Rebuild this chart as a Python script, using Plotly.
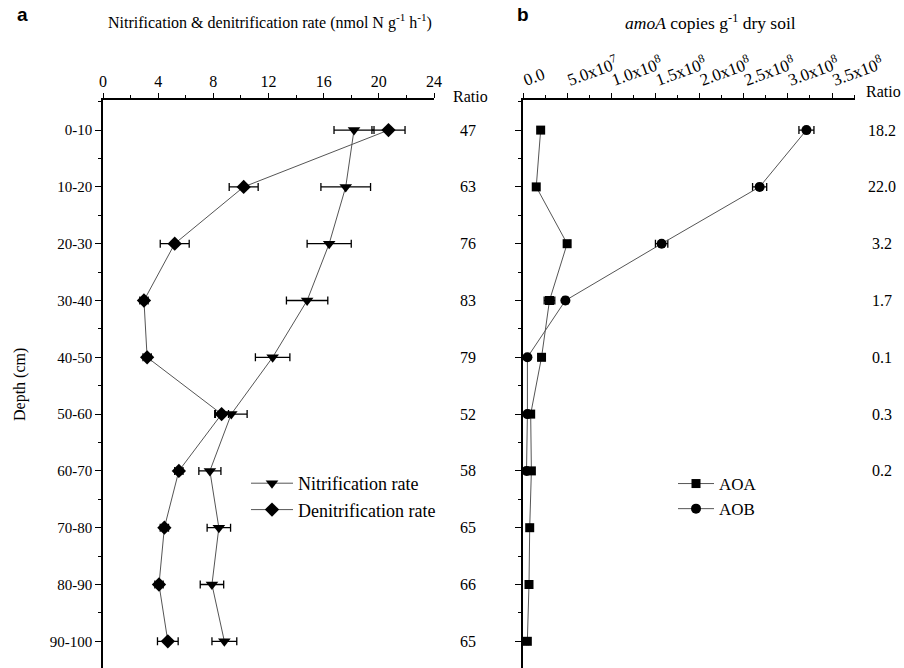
import plotly.graph_objects as go

depth = ["0-10", "10-20", "20-30", "30-40", "40-50", "50-60", "60-70", "70-80", "80-90", "90-100"]
nit = [18.2, 17.6, 16.4, 14.8, 12.3, 9.3, 7.75, 8.4, 7.9, 8.8]
nit_err = [1.45, 1.8, 1.6, 1.5, 1.25, 1.15, 0.8, 0.85, 0.85, 0.9]
den = [20.7, 10.2, 5.2, 2.97, 3.2, 8.6, 5.5, 4.45, 4.06, 4.7]
den_err = [1.2, 1.05, 1.05, 0.3, 0.3, 0.5, 0.3, 0.3, 0.3, 0.75]
ratio_a = ["47", "63", "76", "83", "79", "52", "58", "65", "66", "65"]

aoa = [2.0e7, 1.5e7, 5.0e7, 3.0e7, 2.1e7, 8.7e6, 9.5e6, 7.6e6, 6.8e6, 4.9e6]
aoa_err = [2e6, 2e6, 3e6, 6e6, 3e6, 2e6, 2e6, 1e6, 1e6, 1e6]
aob = [3.21e8, 2.68e8, 1.57e8, 4.8e7, 5e6, 5e6, 4e6]
aob_err = [8.5e6, 8e6, 7e6, 3e6, 2e6, 2e6, 2e6]
ratio_b = ["18.2", "22.0", "3.2", "1.7", "0.1", "0.3", "0.2"]

a_ticks = [0, 4, 8, 12, 16, 20, 24]
b_tickvals = [0, 5e7, 1e8, 1.5e8, 2e8, 2.5e8, 3e8, 3.5e8]
b_ticktext = ["0.0", "5.0x10<sup>7</sup>", "1.0x10<sup>8</sup>", "1.5x10<sup>8</sup>",
              "2.0x10<sup>8</sup>", "2.5x10<sup>8</sup>", "3.0x10<sup>8</sup>", "3.5x10<sup>8</sup>"]

ypos = list(range(len(depth)))
FONT = "Liberation Serif"
LINE = "#555555"

fig = go.Figure()

def err(arr):
    return dict(type="data", array=arr, visible=True, color="black", thickness=1.3, width=4)

fig.add_trace(go.Scatter(x=nit, y=ypos, mode="lines+markers", name="Nitrification rate",
                         line=dict(color=LINE, width=1),
                         marker=dict(symbol="triangle-down", size=11, color="black"),
                         error_x=err(nit_err), xaxis="x", yaxis="y",
                         legend="legend", legendgroup="n"))
fig.add_trace(go.Scatter(x=den, y=ypos, mode="lines+markers", name="Denitrification rate",
                         line=dict(color=LINE, width=1),
                         marker=dict(symbol="diamond", size=11, color="black"),
                         error_x=err(den_err), xaxis="x", yaxis="y",
                         legend="legend", legendgroup="d"))
fig.add_trace(go.Scatter(x=aoa, y=ypos, mode="lines+markers", name="AOA",
                         line=dict(color=LINE, width=1),
                         marker=dict(symbol="square", size=9, color="black"),
                         error_x=err(aoa_err), xaxis="x2", yaxis="y2",
                         legend="legend2", legendgroup="a"))
fig.add_trace(go.Scatter(x=aob, y=ypos[:len(aob)], mode="lines+markers", name="AOB",
                         line=dict(color=LINE, width=1),
                         marker=dict(symbol="circle", size=10, color="black"),
                         error_x=err(aob_err), xaxis="x2", yaxis="y2",
                         legend="legend2", legendgroup="b"))

W, H = 904, 668
top = 1 - 100 / H
yrange = [9.47, -0.53]
minor_y = [i + 0.5 for i in range(-1, len(depth))]

common_x = dict(side="top", showline=True, linecolor="black", linewidth=1.5,
                ticks="outside", ticklen=5, tickwidth=1.2, tickcolor="black",
                showgrid=False, zeroline=False, automargin=False)
common_y = dict(showline=True, linecolor="black", linewidth=1.5, range=yrange,
                ticks="outside", ticklen=6, tickwidth=1.2, tickcolor="black",
                showgrid=False, zeroline=False, automargin=False,
                tickmode="array", tickvals=ypos,
                minor=dict(tickmode="array", tickvals=minor_y, ticks="outside", ticklen=3, tickcolor="black"),
                tickfont=dict(family=FONT, size=15, color="black"))

fig.update_layout(
    width=W, height=H, margin=dict(l=0, r=0, t=0, b=0),
    paper_bgcolor="white", plot_bgcolor="white",
    font=dict(family=FONT, size=15, color="black"),
    xaxis=dict(domain=[103 / W, 434 / W], range=[0, 24], anchor="y",
               tickvals=a_ticks, minor=dict(dtick=2, ticks="outside", ticklen=3, tickcolor="black"),
               tickfont=dict(family=FONT, size=16, color="black"),
               **common_x),
    yaxis=dict(domain=[0, top], anchor="x", ticktext=depth, **common_y),
    xaxis2=dict(domain=[523 / W, 855 / W], range=[0, 3.76e8], anchor="y2",
                tickmode="array", tickvals=b_tickvals, ticktext=b_ticktext, tickangle=-20,
                minor=dict(dtick=2.5e7, ticks="outside", ticklen=3, tickcolor="black"),
                tickfont=dict(family=FONT, size=17, color="black"),
                **common_x),
    yaxis2=dict(domain=[0, top], anchor="x2", showticklabels=False, **common_y),
    legend=dict(x=246 / W, y=1 - 465 / H, xanchor="left", yanchor="top",
                bgcolor="rgba(0,0,0,0)", font=dict(family=FONT, size=18),
                tracegroupgap=0, itemwidth=42),
    legend2=dict(x=673 / W, y=1 - 466 / H, xanchor="left", yanchor="top",
                 bgcolor="rgba(0,0,0,0)", font=dict(family=FONT, size=17),
                 tracegroupgap=0, itemwidth=36),
)

ann = []
ann.append(dict(text="<b>a</b>", x=15 / W, y=1 - 14 / H, xref="paper", yref="paper",
                showarrow=False, xanchor="left", yanchor="middle",
                font=dict(family="Liberation Sans", size=19)))
ann.append(dict(text="<b>b</b>", x=515 / W, y=1 - 14 / H, xref="paper", yref="paper",
                showarrow=False, xanchor="left", yanchor="middle",
                font=dict(family="Liberation Sans", size=19)))
ann.append(dict(text="Nitrification &amp; denitrification rate (nmol N g<sup>-1</sup> h<sup>-1</sup>)",
                x=270 / W, y=1 - 22 / H, xref="paper", yref="paper", showarrow=False,
                xanchor="center", yanchor="middle", font=dict(family=FONT, size=16)))
ann.append(dict(text="<i>amoA</i> copies g<sup>-1</sup> dry soil",
                x=710 / W, y=1 - 22 / H, xref="paper", yref="paper", showarrow=False,
                xanchor="center", yanchor="middle", font=dict(family=FONT, size=17.5)))
ann.append(dict(text="Depth (cm)", x=20 / W, y=1 - 385 / H, xref="paper", yref="paper",
                showarrow=False, textangle=-90, xanchor="center", yanchor="middle",
                font=dict(family=FONT, size=16)))
ann.append(dict(text="Ratio", x=451 / W, y=1 - 96 / H, xref="paper", yref="paper",
                showarrow=False, xanchor="left", yanchor="middle", font=dict(family=FONT, size=16)))
ann.append(dict(text="Ratio", x=864 / W, y=1 - 92 / H, xref="paper", yref="paper",
                showarrow=False, xanchor="left", yanchor="middle", font=dict(family=FONT, size=16)))
for i, r in enumerate(ratio_a):
    ann.append(dict(text=r, x=468 / W, y=ypos[i], xref="paper", yref="y", showarrow=False,
                    xanchor="center", yanchor="middle", font=dict(family=FONT, size=16)))
for i, r in enumerate(ratio_b):
    ann.append(dict(text=r, x=882 / W, y=ypos[i], xref="paper", yref="y2", showarrow=False,
                    xanchor="center", yanchor="middle", font=dict(family=FONT, size=16)))
fig.update_layout(annotations=ann)

fig.write_html("out.html", config={"displayModeBar": False},
               post_script="document.body.style.margin='0';document.body.style.padding='0';")
